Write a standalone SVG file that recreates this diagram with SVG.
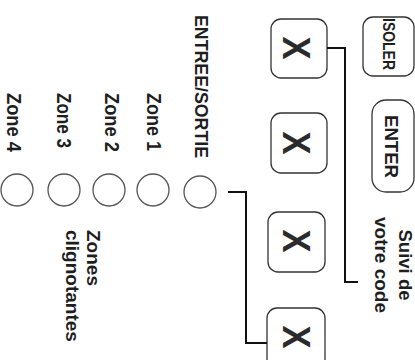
<svg xmlns="http://www.w3.org/2000/svg" width="415" height="360" viewBox="0 0 415 360">
<style>
text{font-family:"Liberation Sans",Arial,sans-serif;font-weight:bold;fill:#1e1e1e}
.box{fill:none;stroke:#333;stroke-width:1.3}
.led{fill:none;stroke:#555;stroke-width:1.3}
.x{font-size:39px;fill:#2b2b2b;text-anchor:middle}
.lbl{font-size:19px}
.zl{font-size:20px}
.mid{text-anchor:middle}
.wire{fill:none;stroke:#111;stroke-width:2}
</style>
<rect width="415" height="360" fill="#fff"/>
<g id="key-x1"><rect class="box" x="271" y="19" width="56" height="59" rx="10"/><text class="x" transform="translate(283,48) rotate(90)" textLength="23" lengthAdjust="spacingAndGlyphs">X</text></g>
<g id="key-x2"><rect class="box" x="271" y="113" width="56" height="60" rx="10"/><text class="x" transform="translate(283,143) rotate(90)" textLength="23" lengthAdjust="spacingAndGlyphs">X</text></g>
<g id="key-x3"><rect class="box" x="268" y="212" width="57" height="60" rx="10"/><text class="x" transform="translate(283,241) rotate(90)" textLength="23" lengthAdjust="spacingAndGlyphs">X</text></g>
<g id="key-x4"><rect class="box" x="267" y="308" width="58" height="62" rx="10"/><text class="x" transform="translate(283,337) rotate(90)" textLength="23" lengthAdjust="spacingAndGlyphs">X</text></g>
<g id="key-isoler"><rect class="box" x="363" y="17" width="51" height="59" rx="10"/><text class="mid" font-size="17" transform="translate(383,44) rotate(90)" textLength="52" lengthAdjust="spacingAndGlyphs">ISOLER</text></g>
<g id="key-enter"><rect class="box" x="372" y="100" width="42" height="92" rx="14"/><text class="mid" font-size="19" transform="translate(385,146.5) rotate(90)" textLength="63" lengthAdjust="spacingAndGlyphs">ENTER</text></g>
<g id="note-code"><text class="mid" font-size="18.5" transform="translate(399,265) rotate(90)">Suivi de</text><text class="mid lbl" transform="translate(375,265) rotate(90)">votre code</text></g>
<g id="led-es"><circle class="led" cx="200" cy="192" r="16"/><text class="lbl" transform="translate(195,15) rotate(90)" textLength="143" lengthAdjust="spacingAndGlyphs">ENTREE/SORTIE</text></g>
<g id="led-z1"><circle class="led" cx="153" cy="190" r="16"/><text class="zl" transform="translate(147,93) rotate(90)" textLength="58" lengthAdjust="spacingAndGlyphs">Zone 1</text></g>
<g id="led-z2"><circle class="led" cx="109" cy="190" r="16"/><text class="zl" transform="translate(105,93) rotate(90)" textLength="59" lengthAdjust="spacingAndGlyphs">Zone 2</text></g>
<g id="led-z3"><circle class="led" cx="64" cy="190" r="16"/><text class="zl" transform="translate(57,93) rotate(90)" textLength="55" lengthAdjust="spacingAndGlyphs">Zone 3</text></g>
<g id="led-z4"><circle class="led" cx="17" cy="190" r="16"/><text class="zl" transform="translate(7,93) rotate(90)" textLength="59" lengthAdjust="spacingAndGlyphs">Zone 4</text></g>
<g id="note-zones"><text class="lbl" transform="translate(87,230) rotate(90)">Zones</text><text class="lbl" transform="translate(66,230) rotate(90)">clignotantes</text></g>
<g id="connectors">
<polyline class="wire" points="327,48 345,48 345,282 358,282"/>
<polyline class="wire" points="228,192 246,192 246,343 267,343"/>
</g>
</svg>
